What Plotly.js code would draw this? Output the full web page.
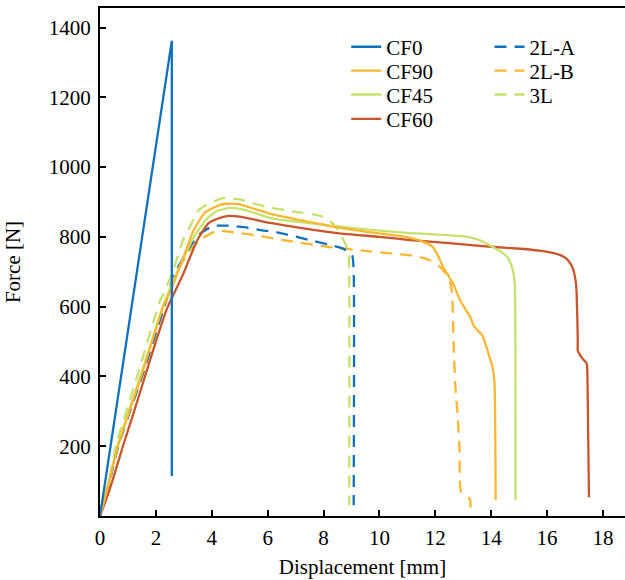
<!DOCTYPE html>
<html>
<head>
<meta charset="utf-8">
<script src="https://cdn.plot.ly/plotly-3.0.1.min.js"></script>
<style>html,body{margin:0;padding:0;background:#fff;}</style>
</head>
<body>
<div id="chart" style="width:625px;height:580px;"></div>
<script>
// Displacement [mm] / Force [N]
const cf0_x = [0, 2.57, 2.57];
const cf0_y = [0, 1362, 115];

const cf90_x = [0, 0.3, 0.64, 1.47, 2.26, 2.55, 2.98, 3.34, 3.76, 4.3, 4.6, 5.0, 6.1, 7.17, 8.5, 9.5, 10.5, 11.1, 11.6, 11.9, 12.1, 12.3, 12.5, 12.65, 12.9, 13.1, 13.26, 13.37, 13.62, 13.7, 13.87, 14.05, 14.12, 14.15, 14.16];
const cf90_y = [0, 90, 200, 400, 600, 650, 740, 817, 870, 892, 895, 893, 866, 848, 827, 815, 805, 797, 785, 772, 745, 711, 685, 663, 617, 590, 569, 546, 523, 515, 474, 426, 380, 200, 46];

const cf45_x = [0, 0.3, 0.62, 1.45, 2.25, 2.6, 3.0, 3.34, 3.8, 4.2, 4.66, 5.2, 6.1, 7.2, 8.5, 10, 11.1, 12.2, 13.15, 13.6, 14.1, 14.4, 14.6, 14.75, 14.83, 14.86, 14.87, 14.87];
const cf45_y = [0, 92, 200, 400, 600, 670, 740, 797, 850, 875, 883, 877, 854, 842, 830, 818, 811, 806, 800, 790, 769, 755, 740, 712, 680, 617, 300, 46];

const cf60_x = [0, 0.25, 0.5, 0.82, 1.2, 1.61, 2.0, 2.4, 2.98, 3.47, 3.87, 4.2, 4.6, 5.0, 6.1, 7.0, 8.5, 10, 11.1, 12.5, 14.1, 15.05, 15.8, 16.2, 16.5, 16.7, 16.85, 16.95, 17.03, 17.06, 17.1, 17.1, 17.27, 17.42, 17.45, 17.5];
const cf60_y = [0, 54, 115, 200, 295, 400, 500, 595, 694, 789, 838, 852, 860, 858, 840, 828, 811, 800, 791, 782, 771, 766, 760, 754, 747, 737, 722, 703, 670, 637, 503, 474, 451, 437, 380, 54];

const l2a_x = [0, 0.3, 0.65, 1.5, 2.3, 2.69, 3.2, 3.58, 4.05, 4.6, 5.3, 5.7, 6.45, 7.5, 8.6, 8.85, 9.03, 9.08, 9.08];
const l2a_y = [0, 85, 200, 400, 600, 697, 769, 809, 831, 832, 826, 820, 811, 791, 769, 760, 746, 700, 31];

const l2b_x = [0, 0.3, 0.65, 1.5, 2.3, 2.7, 3.2, 3.65, 4.2, 4.5, 5.0, 5.7, 6.1, 7.0, 8.2, 9.5, 10.6, 11.3, 11.8, 12.2, 12.5, 12.6, 12.66, 12.72, 12.8, 12.87, 12.92, 13.24, 13.26];
const l2b_y = [0, 85, 200, 400, 600, 690, 760, 795, 818, 816, 811, 803, 797, 785, 771, 760, 751, 745, 733, 712, 680, 640, 480, 370, 290, 190, 70, 48, 25];

const l3_x = [0, 0.3, 0.6, 1.33, 1.9, 2.15, 2.33, 2.6, 3.0, 3.2, 3.5, 3.87, 4.4, 4.95, 5.6, 6.0, 6.9, 7.9, 8.35, 8.6, 8.75, 8.9, 8.92, 8.92];
const l3_y = [0, 95, 210, 400, 554, 617, 646, 700, 797, 826, 874, 894, 911, 908, 894, 885, 873, 860, 837, 810, 785, 754, 700, 31];

const xTicks = [0, 2, 4, 6, 8, 10, 12, 14, 16, 18];
const yTicks = [200, 400, 600, 800, 1000, 1200, 1400];

const C_BLUE = '#1171BD', C_ORANGE = '#FBB732', C_LIME = '#C5E36C', C_RED = '#C9552B';
const W = 2.3;
const DASH = '12px,8px';
const FONT = 'Times New Roman, Liberation Serif, serif';

function fnt() { return {family: FONT, size: 21, color: '#000'}; }

function tr(x, y, name, color, dash, legend, shape) {
  return {x: x, y: y, name: name, type: 'scatter', mode: 'lines',
    line: {color: color, width: W, dash: dash || 'solid', shape: shape || 'spline', smoothing: 0.5},
    legend: legend, hoverinfo: 'skip'};
}

const data = [
  tr(l3_x, l3_y, '3L', C_LIME, DASH, 'legend7'),
  tr(l2b_x, l2b_y, '2L-B', C_ORANGE, DASH, 'legend6'),
  tr(l2a_x, l2a_y, '2L-A', C_BLUE, DASH, 'legend5'),
  tr(cf60_x, cf60_y, 'CF60', C_RED, null, 'legend4'),
  tr(cf45_x, cf45_y, 'CF45', C_LIME, null, 'legend3'),
  tr(cf90_x, cf90_y, 'CF90', C_ORANGE, null, 'legend2'),
  tr(cf0_x, cf0_y, 'CF0', C_BLUE, null, 'legend', 'linear')
];

function leg(x, y) {
  return {x: x, y: y, xanchor: 'left', yanchor: 'middle', bgcolor: 'rgba(0,0,0,0)',
    font: fnt(), borderwidth: 0};
}
const col1 = 0.469, col2 = 0.742;
const rows = [0.923, 0.876, 0.829, 0.781];

const layout = {
  width: 625, height: 580,
  margin: {l: 100, r: 0, t: 8, b: 64},
  paper_bgcolor: '#ffffff', plot_bgcolor: '#ffffff',
  font: fnt(),
  showlegend: true,
  legend: leg(col1, rows[0]),
  legend2: leg(col1, rows[1]),
  legend3: leg(col1, rows[2]),
  legend4: leg(col1, rows[3]),
  legend5: leg(col2, rows[0]),
  legend6: leg(col2, rows[1]),
  legend7: leg(col2, rows[2]),
  xaxis: {
    range: [0, 18.79], tickvals: xTicks, ticktext: xTicks.map(String),
    ticks: 'inside', ticklen: 6, tickwidth: 2, tickcolor: '#000',
    showline: true, linewidth: 2, linecolor: '#000', mirror: true,
    showgrid: false, zeroline: false, ticklabelstandoff: 2,
    tickfont: fnt(),
    title: {text: 'Displacement [mm]', font: fnt(), standoff: 10}
  },
  yaxis: {
    range: [0, 1456], tickvals: yTicks, ticktext: yTicks.map(String),
    ticks: 'inside', ticklen: 6, tickwidth: 2, tickcolor: '#000',
    showline: true, linewidth: 2, linecolor: '#000', mirror: false,
    showgrid: false, zeroline: false, ticklabelstandoff: 3,
    tickfont: fnt(),
    title: {text: 'Force [N]', font: fnt(), standoff: 22}
  }
};

Plotly.newPlot('chart', data, layout, {displayModeBar: false, staticPlot: true});
</script>
</body>
</html>
